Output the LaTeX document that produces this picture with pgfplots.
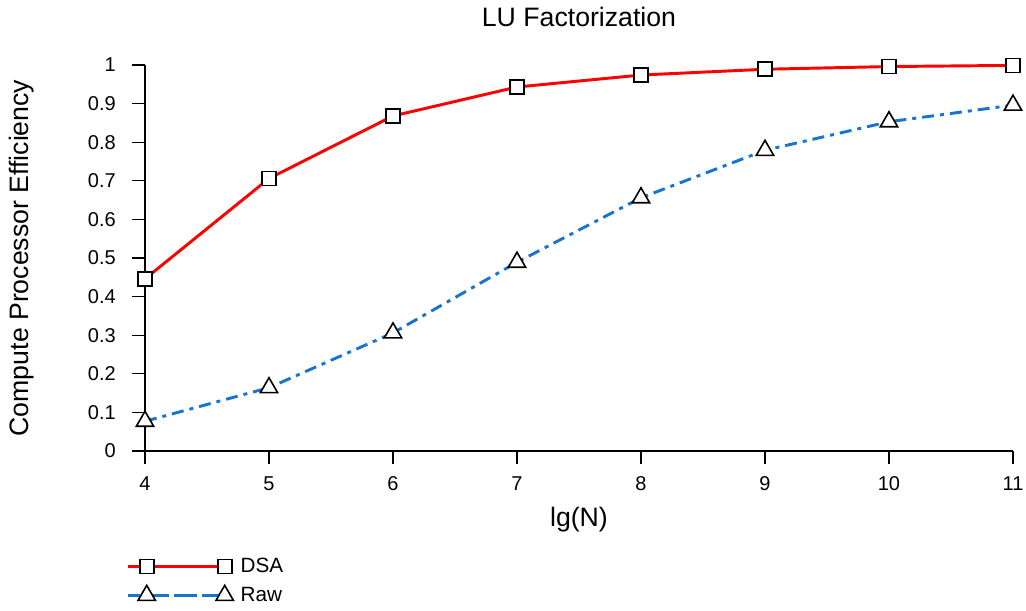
\documentclass[border=0pt]{standalone}
\usepackage{pgfplots}
\pgfplotsset{compat=1.18}
\usepackage{fontspec}
\setmainfont{Liberation Sans}
\definecolor{rawblue}{RGB}{24,116,205}
\begin{document}
\begin{tikzpicture}
\useasboundingbox (-108.75pt,-120pt) rectangle (660.75pt,338.25pt);
\begin{axis}[
  scale only axis, width=651pt, height=289.5pt,
  xmin=4, xmax=11, ymin=0, ymax=1,
  clip=false,
  axis x line=bottom, axis y line=left,
  axis line style={-, line width=1pt, black},
  xtick={4,5,6,7,8,9,10,11},
  ytick={0,0.1,0.2,0.3,0.4,0.5,0.6,0.7,0.8,0.9,1},
  yticklabels={0,0.1,0.2,0.3,0.4,0.5,0.6,0.7,0.8,0.9,1},
  tick align=outside, major tick length=9.75pt,
  tick style={line width=1pt, black},
  /pgf/number format/assume math mode=true,
  ticklabel style={font=\fontsize{15}{17}\selectfont},
  yticklabel style={inner sep=0pt, xshift=-12pt},
  xticklabel style={inner sep=0pt, yshift=-9pt},
  title={LU Factorization},
  every axis title shift=0pt,
  title style={at={(axis description cs:0.5,1.1244)}, anchor=center, font=\fontsize{20}{23}\selectfont},
  xlabel={lg(N)},
  ylabel={Compute Processor Efficiency},
  every axis x label/.style={at={(axis description cs:0.5,-0.1788)}, anchor=center, font=\fontsize{20}{23}\selectfont},
  every axis y label/.style={at={(axis description cs:-0.1417,0.5)}, anchor=center, rotate=90, font=\fontsize{20}{23}\selectfont},
  legend image code/.code={
    \draw[#1, mark=none] (0pt,0pt) -- (72.75pt,0pt);
    \path[#1] plot coordinates {(14.25pt,0pt) (72.75pt,0pt)};
  },
  legend style={at={(axis description cs:-0.0219,-0.267)}, anchor=north west,
    draw=none, fill=none, inner sep=0pt, row sep=3.75pt, column sep=5.5pt,
    font=\fontsize{15.5}{18}\selectfont,
    nodes={inner sep=0pt, text height=14pt, text depth=4pt}},
  legend cell align=left,
]
\addplot[color=red, line width=2.2pt, mark=square*, mark size=5.25pt,
  mark options={solid, fill=white, draw=black, line width=1.2pt}]
  coordinates {(4,0.446)(5,0.706)(6,0.868)(7,0.943)(8,0.974)(9,0.989)(10,0.996)(11,0.999)};
\addlegendentry{DSA}
\addplot[color=rawblue, line width=2.2pt, line cap=butt, dash pattern=on 9pt off 4.5pt on 3pt off 4.5pt,
  mark=triangle*, mark size=7.5pt,
  mark options={solid, fill=white, draw=black, line width=1.2pt}]
  coordinates {(4,0.077)(5,0.164)(6,0.306)(7,0.489)(8,0.656)(9,0.779)(10,0.853)(11,0.896)};
\addlegendentry{Raw}
\end{axis}
\end{tikzpicture}
\end{document}
